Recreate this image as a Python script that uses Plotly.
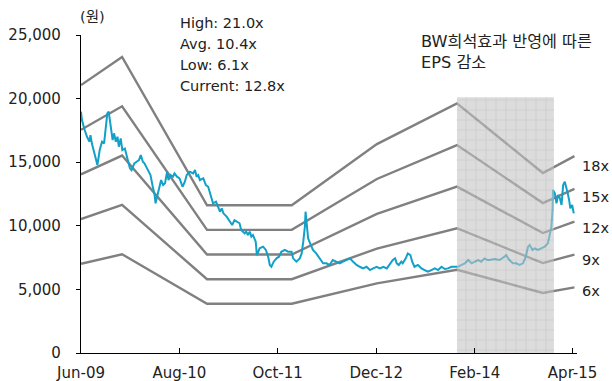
import plotly.graph_objects as go

# ---------------- data ----------------
band_dates = ["2009-06-01", "2009-11-26", "2010-11-29", "2011-12-01",
              "2012-12-04", "2013-11-16", "2014-11-23", "2015-04-09"]
band_6x = [7020, 7760, 3870, 3870, 5470, 6540, 4720, 5160]
band_9x = [10530, 11640, 5800, 5800, 8210, 9810, 7070, 7740]
band_12x = [14040, 15520, 7740, 7740, 10940, 13080, 9430, 10320]
band_15x = [17550, 19400, 9680, 9680, 13680, 16350, 11790, 12900]
band_18x = [21060, 23270, 11610, 11610, 16420, 19620, 14150, 15480]
band_labels = ["6x", "9x", "12x", "15x", "18x"]

price_dates = [
    "2009-06-01", "2009-06-05", "2009-06-17", "2009-06-27", "2009-07-08", "2009-07-12", "2009-07-18",
    "2009-07-30", "2009-08-06", "2009-08-11", "2009-08-21", "2009-08-31", "2009-09-09", "2009-09-16",
    "2009-09-23", "2009-09-29", "2009-10-05", "2009-10-10", "2009-10-16", "2009-10-22", "2009-10-30",
    "2009-11-06", "2009-11-12", "2009-11-20", "2009-11-27", "2009-12-08", "2009-12-19", "2009-12-30",
    "2010-01-06", "2010-01-18", "2010-01-28", "2010-02-07", "2010-02-15", "2010-02-24", "2010-03-03",
    "2010-03-10", "2010-03-20", "2010-03-29", "2010-04-08", "2010-04-16", "2010-04-20", "2010-04-27",
    "2010-05-07", "2010-05-14", "2010-05-23", "2010-05-31", "2010-06-09", "2010-06-15", "2010-06-24",
    "2010-07-04", "2010-07-11", "2010-07-22", "2010-08-02", "2010-08-15", "2010-08-25", "2010-09-02",
    "2010-09-16", "2010-09-30", "2010-10-08", "2010-10-15", "2010-10-22", "2010-10-29", "2010-11-13",
    "2010-11-24", "2010-12-04", "2010-12-11", "2010-12-18", "2010-12-25",
    "2011-01-07", "2011-01-17", "2011-01-24", "2011-02-01", "2011-02-08", "2011-02-22", "2011-03-07",
    "2011-03-18", "2011-03-28", "2011-04-08", "2011-04-19", "2011-04-26", "2011-05-11", "2011-05-18",
    "2011-05-25", "2011-06-02", "2011-06-09", "2011-06-16", "2011-06-28", "2011-07-03", "2011-07-15",
    "2011-07-30", "2011-08-11", "2011-08-21", "2011-08-28", "2011-09-04", "2011-09-14", "2011-09-26",
    "2011-10-07", "2011-10-17", "2011-11-01", "2011-11-15", "2011-11-30", "2011-12-07", "2011-12-21",
    "2012-01-05", "2012-01-13", "2012-01-20", "2012-01-27", "2012-01-30", "2012-02-05", "2012-02-10",
    "2012-02-22", "2012-03-02", "2012-03-16", "2012-04-01", "2012-04-15", "2012-04-29", "2012-05-13",
    "2012-05-27", "2012-06-12", "2012-06-26", "2012-07-10", "2012-07-25", "2012-08-09", "2012-08-23",
    "2012-09-07", "2012-09-21", "2012-10-05", "2012-10-20", "2012-11-04", "2012-11-18", "2012-12-03",
    "2012-12-17",
    "2013-01-01", "2013-01-16", "2013-01-30", "2013-02-11", "2013-02-21", "2013-02-28", "2013-03-09",
    "2013-03-20", "2013-03-26", "2013-04-08", "2013-04-17", "2013-04-28", "2013-05-06", "2013-05-16",
    "2013-05-31", "2013-06-15", "2013-06-29", "2013-07-13", "2013-07-28", "2013-08-12", "2013-08-26",
    "2013-09-10", "2013-09-24", "2013-10-08", "2013-10-23", "2013-11-07", "2013-11-21", "2013-12-06",
    "2013-12-20",
    "2014-01-04", "2014-01-18", "2014-02-02", "2014-02-16", "2014-03-01", "2014-03-15", "2014-03-29",
    "2014-04-06", "2014-04-27", "2014-05-19", "2014-06-10", "2014-06-17", "2014-07-01", "2014-07-16",
    "2014-07-31", "2014-08-14", "2014-08-29", "2014-09-10", "2014-09-20", "2014-09-27", "2014-10-09",
    "2014-10-18", "2014-11-02", "2014-11-17", "2014-12-01", "2014-12-15", "2014-12-22", "2014-12-30",
    "2015-01-04", "2015-01-06", "2015-01-14", "2015-01-21", "2015-01-28", "2015-02-05", "2015-02-12",
    "2015-02-19", "2015-02-26", "2015-03-04", "2015-03-11", "2015-03-18", "2015-03-22", "2015-03-30",
    "2015-04-06",
]
price_values = [
    18970, 18310, 17530, 17000, 16610, 17130, 16480, 15560, 14910, 14780, 15960, 16610, 16480, 17530,
    18840, 18970, 18310, 17530, 16740, 17270, 16610, 17000, 16220, 16870, 15960, 16080, 15300, 14520,
    14380, 14910, 15040, 15170, 15560, 15040, 14910, 14650, 14380, 13990, 13070, 12420, 11770, 12290,
    13200, 13600, 13200, 13340, 14250, 13600, 13990, 13860, 14120, 13860, 13730, 13070, 13470, 13990,
    14250, 14120, 14380, 13860, 13990, 13600, 13730, 13200, 13070, 12680, 12160, 11770,
    11900, 11510, 11110, 11370, 10980, 10720, 10330, 10060, 10450, 10330, 10200, 9670, 9410, 9540,
    9280, 9540, 9150, 9280, 8750, 7700, 8230, 8360, 8100, 7570, 6920, 6780, 7180, 7440, 7570, 7960,
    8100, 7960, 7960, 7440, 7180,
    7440, 7830, 8750, 9930, 11110, 9930, 9020, 8490, 8100, 7830, 7440, 7050, 7050, 6920, 7310, 7180,
    7050, 7180, 7310, 7440, 7180, 6920, 6780, 6650, 6780, 6520, 6650, 6780, 6650,
    6780, 6650, 7050, 7310, 7440, 7050, 6920, 7180, 7050, 7440, 7830, 7700, 7180, 6780, 6920, 6650,
    6520, 6390, 6520, 6650, 6520, 6780, 6600, 6650, 6780, 6780, 6780, 6920, 7050,
    7310, 7050, 7180, 7310, 7180, 7440, 7310, 7310, 7380, 7310, 7570, 7700, 7310, 7050, 7050, 6920,
    7050, 7570, 8360, 8490, 8100, 8230, 8100, 8230, 8360, 8620, 9150, 9930,
    11240, 12810, 12550, 11770, 12420, 12160, 11640, 13200, 13470, 13070, 12550, 11900, 11370, 11640,
    10980,
]

shade_start = "2013-11-16"
shade_end = "2015-01-10"
shade_top = 20100

stats_lines = ["High: 21.0x", "Avg. 10.4x", "Low: 6.1x", "Current: 12.8x"]
note_lines = ["BW희석효과 반영에 따른", "EPS 감소"]
unit_label = "(원)"
tick_dates = ["2009-06-01", "2010-08-01", "2011-10-01", "2012-12-01", "2014-02-01", "2015-04-01"]
tick_text = ["Jun-09", "Aug-10", "Oct-11", "Dec-12", "Feb-14", "Apr-15"]
y_ticks = [0, 5000, 10000, 15000, 20000, 25000]

# ---------------- figure ----------------
FONT = "DejaVu Sans, Noto Sans CJK KR, sans-serif"
BAND_COLOR = "#808080"
PRICE_COLOR = "#12a0c8"
TEXT = "#222222"

fig = go.Figure()
bands = [band_6x, band_9x, band_12x, band_15x, band_18x]
for vals in bands:
    fig.add_trace(go.Scatter(x=band_dates, y=vals, mode="lines",
                             line=dict(color=BAND_COLOR, width=2.4),
                             hoverinfo="skip", showlegend=False))

fig.add_trace(go.Scatter(x=price_dates, y=price_values, mode="lines",
                         line=dict(color=PRICE_COLOR, width=2),
                         showlegend=False))

# shaded overlay (drawn on top, semi-transparent grid pattern)
fig.add_trace(go.Scatter(
    x=[shade_start, shade_start, shade_end, shade_end, shade_start],
    y=[0, shade_top, shade_top, 0, 0],
    mode="lines", fill="toself", line=dict(width=0),
    fillcolor="#c4c4c4",
    fillpattern=dict(shape="+", size=10, solidity=0.2, fgcolor="#999999",
                     bgcolor="#c4c4c4", fillmode="overlay"),
    opacity=0.6, hoverinfo="skip", showlegend=False))

# end labels for bands
label_yshift = [-4, -5, -6, -8, -10]
for vals, lab, ys in zip(bands, band_labels, label_yshift):
    fig.add_annotation(x=band_dates[-1], y=vals[-1], text=lab, showarrow=False,
                       xanchor="left", yanchor="middle", xshift=6, yshift=ys,
                       font=dict(family=FONT, size=14.5, color=TEXT))

# stats block
for i, t in enumerate(stats_lines):
    fig.add_annotation(xref="paper", yref="paper", x=0.1956, y=1.0377 - i * 0.066,
                       text=t, showarrow=False, xanchor="left", yanchor="middle",
                       font=dict(family=FONT, size=14.5, color=TEXT))

for i, t in enumerate(note_lines):
    fig.add_annotation(xref="paper", yref="paper", x=0.681, y=0.978 - i * 0.063,
                       text=t, showarrow=False, xanchor="left", yanchor="middle",
                       font=dict(family=FONT, size=16.2, color=TEXT))

fig.add_annotation(xref="paper", yref="paper", x=-0.006, y=1.057, text=unit_label,
                   showarrow=False, xanchor="left", yanchor="middle",
                   font=dict(family=FONT, size=14.5, color=TEXT))

fig.update_layout(
    width=612, height=381,
    margin=dict(l=81, r=35, t=35, b=28, autoexpand=False),
    plot_bgcolor="white", paper_bgcolor="white",
    font=dict(family=FONT, size=14.5, color=TEXT),
    showlegend=False,
)
fig.update_xaxes(type="date", range=["2009-06-01", "2015-04-20"],
                 tickvals=tick_dates, ticktext=tick_text, automargin=False,
                 showgrid=False, zeroline=False, showline=True, linecolor="black", linewidth=1.3,
                 ticks="inside", ticklen=5, tickcolor="black", tickwidth=1,
                 ticklabelstandoff=6,
                 tickfont=dict(family=FONT, size=15, color=TEXT))
fig.update_yaxes(range=[0, 25000], tickvals=y_ticks, tickformat=",", automargin=False,
                 showgrid=False, zeroline=False, showline=True, linecolor="black", linewidth=1.3,
                 ticks="outside", ticklen=4, tickcolor="black", tickwidth=1,
                 ticklabelstandoff=12,
                 tickfont=dict(family=FONT, size=15, color=TEXT))

fig.write_html("out.html")
